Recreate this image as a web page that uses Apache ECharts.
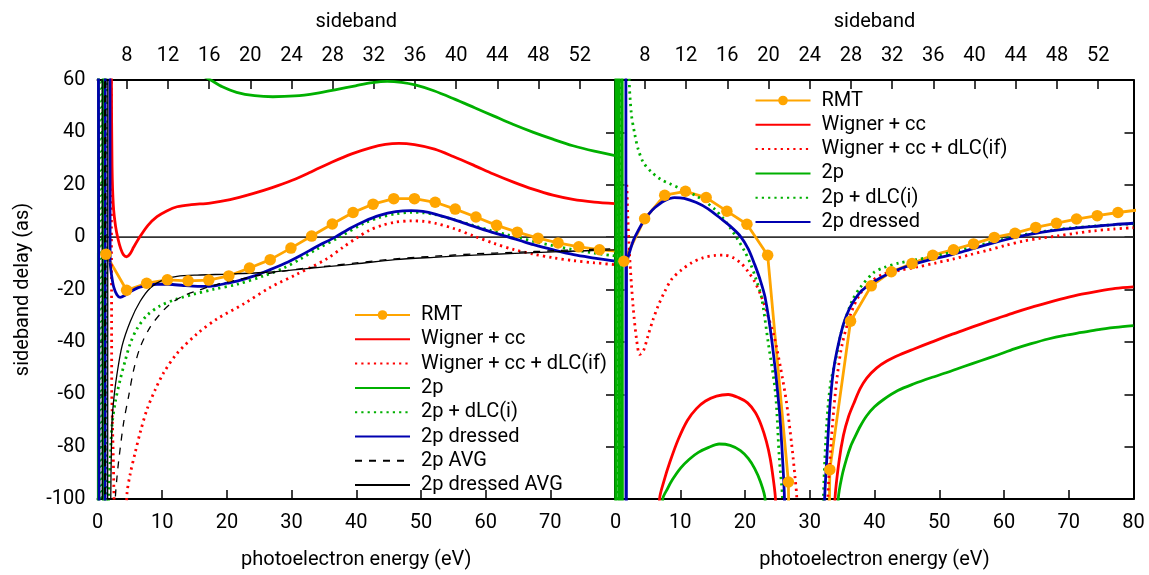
<!DOCTYPE html>
<html><head><meta charset="utf-8">
<script src="https://cdn.jsdelivr.net/npm/echarts@6/dist/echarts.min.js"></script>
<style>html,body{margin:0;padding:0;background:#fff}#c{width:1149px;height:575px}</style>
</head><body><div id="c"></div>
<script>
// ---------- axes ----------
const E_MIN = 0, E_MAX = 80, E_STEP = 10;
const Y_MIN = -100, Y_MAX = 60, Y_STEP = 20;
const SB_MIN = 5.15, SB_MAX = 55.43;
const SB_TICKS = [8, 12, 16, 20, 24, 28, 32, 36, 40, 44, 48, 52];
const NAMES_LEFT = ['RMT', 'Wigner + cc', 'Wigner + cc + dLC(if)', '2p', '2p + dLC(i)', '2p dressed', '2p AVG', '2p dressed AVG'];
const NAMES_RIGHT = ['RMT', 'Wigner + cc', 'Wigner + cc + dLC(if)', '2p', '2p + dLC(i)', '2p dressed'];

// ---------- RMT (photoelectron energy, delay) ----------
const rmtE = [1.3, 4.5, 7.6, 10.8, 14.0, 17.2, 20.3, 23.5, 26.7, 29.9, 33.1, 36.3, 39.5, 42.6, 45.8, 49.0, 52.2, 55.3, 58.5, 61.7, 64.9, 68.1, 71.2, 74.4, 77.6, 80.8];
const rmtLeft = [-6.5, -20.3, -17.6, -16.3, -16.7, -16.4, -14.8, -11.8, -8.6, -4.2, 0.4, 5.0, 9.4, 12.6, 14.7, 14.7, 13.3, 10.7, 7.7, 4.5, 1.9, -0.4, -2.2, -3.7, -4.8, -5.5];
const rmtRight = [-9.2, 7.0, 16.0, 17.5, 15.1, 9.9, 4.9, -6.9, -93.5, -800, -88.8, -32.1, -18.6, -13.2, -10.1, -6.9, -4.8, -2.6, -0.1, 1.5, 3.7, 5.3, 6.9, 8.2, 9.4, 10.4];

// ---------- left panel curves [E, delay] ----------
const wignerL = [[2.0,200],[2.15,62],[2.25,27],[2.45,12],[2.8,4],[3.2,-1],[3.6,-4.5],[4.0,-6.7],[4.5,-7.5],[5.0,-6.5],[5.6,-3.8],[6.6,0.3],[7.8,4.5],[9.2,7.8],[10.7,10],[12.3,11.6],[14.5,12.4],[17.4,13.0],[20.5,14.3],[24,16.6],[27,18.9],[30.1,21.7],[33,24.9],[36.2,28.6],[39.3,31.8],[42.3,34.2],[44.5,35.4],[46.6,35.8],[49,35.3],[52.1,33.6],[55,30.8],[58.2,27.4],[61.2,24.1],[64.3,21],[67.3,18.3],[70.4,16.0],[73.5,14.4],[76.8,13.4],[80,12.8]];
const wignerDlcSpikeL = [[1.95,300],[2.2,-60],[2.45,-85],[2.7,-120]];
const wignerDlcL = [[4.4,-115],[4.56,-98],[5.07,-90.3],[5.84,-82.1],[6.6,-74.6],[7.65,-65.8],[8.94,-58.2],[10.2,-51.9],[12.3,-44.4],[15.4,-36.9],[18.5,-31.2],[22.6,-25.5],[26.7,-19.2],[30.8,-14.2],[33,-11.5],[35.5,-8.2],[38,-3.8],[40,-0.4],[42,2.6],[44,4.5],[46,5.7],[48.5,6.2],[50.5,6.0],[52.2,5.3],[55.2,3.2],[58.3,0.3],[61.3,-2.4],[64.4,-4.8],[67.4,-6.5],[70.5,-7.9],[73.6,-9.0],[76.8,-9.8],[80,-10.5]];
const p2SpikeL = [[0.1,-300],[0.17,300],[0.85,300],[0.92,-300],[1.0,-300],[1.07,300]];
const p2L = [[10,72],[13,66],[15.5,62.5],[17.3,60.3],[19.3,57.4],[21.5,55.3],[24.3,54.0],[27.1,53.6],[30.5,53.9],[33.8,54.9],[36.9,56.3],[39.9,57.8],[42.5,59.0],[44.8,59.5],[47,59.1],[49.1,58.1],[52,55.9],[55.2,52.7],[58.3,49.4],[61.3,46.2],[64.3,43.0],[67.4,40.0],[70.5,37.3],[73.5,34.9],[76.8,32.8],[80,31.1]];
const p2DlcSpikeL = [[0.25,300],[0.32,-300],[0.7,-300],[0.77,300],[1.35,300],[1.42,-300]];
const p2DlcL = [[1.6,-130],[1.7,-100],[1.95,-86],[2.24,-72],[2.75,-63],[3.5,-54.5],[4.3,-47],[5.07,-40.6],[6.1,-35],[7.65,-29.9],[9.7,-26.2],[12.3,-23.6],[14.9,-21.8],[18,-19.9],[21.6,-18],[25.7,-14.8],[28.8,-11.8],[31.4,-8.3],[33.9,-4.6],[37.4,0],[41.2,5.3],[43.6,7.5],[46.1,8.9],[48.5,9.5],[50.3,9.3],[52.2,8.6],[55.2,6.6],[58.3,4.3],[60.8,2.5],[63.2,1.0],[65.3,-0.3],[67.4,-1.6],[70.5,-3.3],[73.6,-4.8],[76.8,-6.1],[80,-7.2]];
const p2DressedSpikeL = [[0,300],[0.3,300],[0.37,-300],[1.15,-300],[1.22,300],[1.85,300],[1.95,-9.8]];
const p2DressedL = [[1.95,-9.8],[2.2,-15],[2.5,-19],[3.0,-22],[3.5,-23],[4.2,-22.3],[5.1,-20.8],[6.3,-19.3],[7.7,-18.5],[9.2,-18],[11,-18],[13.3,-18.5],[15.5,-18.8],[17,-18.8],[18.5,-18.4],[20,-17.6],[21.6,-16.8],[24,-15],[26.5,-12.6],[29,-10],[31.4,-7.0],[33.9,-3.6],[36.8,0.1],[39,3.3],[41.2,6.0],[43.6,8.3],[46.1,9.7],[48.5,10.1],[50.3,9.8],[52.2,8.8],[55.2,6.6],[58.3,4.0],[60.8,2.0],[63.2,0.3],[65.3,-1.3],[67.4,-2.9],[70.5,-4.9],[73.6,-6.7],[76.8,-8.0],[80,-9.2]];
const avgSpikeL = [[1.05,300],[1.12,-300],[1.3,-300],[1.37,300]];
const avgL = [[2.65,-115],[2.75,-100],[3.0,-92],[3.27,-85.5],[4.04,-70.8],[4.81,-60.8],[5.59,-50.7],[6.62,-41.9],[8.16,-34.3],[9.71,-29.3],[11.25,-25.5],[13.3,-22.4],[15.4,-20.5],[18.5,-18],[22.1,-16.1],[25.7,-14.2],[28.8,-13],[32,-11.9],[35.5,-11.1],[40,-9.8],[46,-8.3],[52,-7.3],[58.3,-6.4],[64.5,-5.8],[70.5,-5.2],[75,-4.8],[80,-4.4]];
const avgDressedSpikeL = [[0.7,300],[0.77,-300],[1.55,-300],[1.62,300]];
const avgDressedL = [[1.95,-130],[2.05,-100],[2.15,-80],[2.3,-68],[2.6,-60],[3.0,-52.5],[3.8,-41.5],[5.1,-32],[6.6,-24.5],[8.2,-19.3],[10.2,-16.2],[12.3,-15.0],[15.4,-14.5],[20.5,-14.1],[25.7,-13.5],[30.8,-12.4],[35.5,-11.3],[40,-10.2],[46,-8.6],[52,-7.7],[58.3,-6.9],[64.5,-6.2],[70.5,-5.6],[75.5,-5.2],[80,-4.9]];

// ---------- right panel curves [E, delay] ----------
const wignerR1 = [[6.5,-130],[6.8,-100],[7.5,-93],[8.4,-85.9],[9.7,-77.2],[11.1,-70.0],[12.5,-65.5],[13.9,-62.6],[15.6,-60.7],[17.4,-60.1],[19,-61.3],[20.4,-63.3],[21.6,-67],[22.55,-72.1],[23.3,-78],[23.9,-84.6],[24.4,-93],[24.7,-100],[24.9,-130]];
const wignerR2 = [[33.7,-130],[33.9,-100],[34.5,-86],[35.2,-75.7],[36.0,-68.5],[36.8,-63.5],[37.8,-57.8],[38.8,-53.8],[40.3,-50.0],[41.9,-47.3],[43.9,-44.9],[46.1,-42.7],[48.7,-40.2],[51.3,-37.7],[53.9,-35.4],[56.4,-33.2],[59,-31.0],[61.6,-28.8],[64.2,-26.8],[66.8,-25.0],[69.4,-23.3],[72.0,-21.8],[74.6,-20.6],[77.2,-19.6],[80,-19.0]];
const wignerDlcR1 = [[1.75,20],[1.9,8],[2.2,-8],[2.71,-26.2],[3.24,-38.8],[3.75,-44.8],[4.3,-43.5],[5.04,-37.5],[5.8,-31.5],[6.59,-26.2],[7.6,-20.8],[8.66,-16.1],[10.2,-12.5],[11.76,-9.8],[13.5,-7.9],[15.4,-7.0],[16.8,-6.9],[18.2,-7.9],[19.4,-10],[20.4,-12.9],[21.5,-17],[22.5,-22.5],[23.4,-29],[24.5,-38],[25.5,-50],[26.4,-63],[27.2,-79],[27.7,-91],[28.0,-100],[28.2,-140]];
const wignerDlcR2 = [[32.6,-140],[32.8,-100],[33.2,-82],[33.7,-66],[34.3,-52],[35,-41],[36.3,-29.5],[37.7,-22],[39.5,-17],[41.2,-14.3],[43.9,-12.7],[46.6,-11.4],[49.4,-9.9],[52.1,-8.4],[54.8,-6.7],[57.5,-5],[60.2,-3.2],[63,-1.5],[65.7,-0.4],[68.4,0.5],[71.1,1.5],[73.9,2.4],[77,3.1],[80,3.6]];
const p2SpikeR = [[0.0,-300],[0.08,300],[0.45,300],[0.52,-300],[0.9,-300],[0.97,300],[1.05,300],[1.12,-300]];
const p2R1 = [[7.0,-130],[7.3,-100],[8.0,-96.2],[8.8,-92.6],[10.05,-88.2],[11.4,-84.8],[12.8,-82.2],[14.4,-80.3],[16.0,-79],[17.7,-79.5],[19.3,-81.5],[20.5,-84.5],[21.5,-88.4],[22.4,-93.5],[23.1,-100],[23.3,-130]];
const p2R2 = [[34.2,-130],[34.4,-100],[35.0,-91],[35.7,-84.5],[36.3,-80],[37.0,-76.2],[37.8,-72.2],[38.8,-68.2],[40,-64.8],[41.4,-62.0],[43.6,-58.6],[46.1,-56.0],[48.7,-53.7],[51.3,-51.6],[53.8,-49.4],[56.4,-47.2],[59,-45.0],[61.6,-42.7],[64.2,-40.7],[66.8,-38.9],[69.4,-37.5],[72.0,-36.4],[74.6,-35.3],[77.2,-34.5],[80,-33.8]];
const p2DlcSpikeR = [[0.2,300],[0.27,-300],[0.65,-300],[0.72,300]];
const p2DlcR1 = [[1.9,200],[2.1,62],[2.45,47],[3.0,39],[3.5,33.6],[4.3,28.5],[5.5,25],[7,22],[8.4,20.4],[10,18.6],[11.1,17.5],[12.5,15.7],[13.9,13.5],[15.3,10.7],[16.6,7.2],[17.7,3.6],[18.75,-0.4],[19.9,-5.2],[20.9,-10.5],[21.7,-16],[22.55,-23],[23.6,-40.6],[24.7,-59.5],[25.3,-84.6],[25.8,-100],[26.0,-130]];
const p2DlcR2 = [[31.9,-130],[32.1,-100],[32.6,-72],[33.2,-56],[34,-46.9],[34.8,-37],[35.6,-30.6],[36.6,-24],[37.8,-19.2],[39.9,-13.5],[41.5,-11.6],[43.75,-9.9],[46.5,-8.6],[49.2,-7.3],[52,-5.8],[54.8,-4.1],[57.5,-2.3],[60.2,-0.6],[63,0.9],[65.7,2.0],[68.4,3.0],[71.2,3.7],[73.9,4.2],[77,4.7],[80,5.1]];
const p2DressedSpikeR = [[1.58,300],[1.64,-300],[1.66,-300],[1.7,-9.8]];
const p2DressedR1 = [[1.7,-9.8],[2.2,-5.5],[2.8,-1],[3.5,2.5],[4.3,6],[5.2,9],[6.1,11.3],[7.5,13.8],[9.1,15.1],[10.6,14.8],[12.5,13.2],[14.3,10.8],[16.2,7.2],[17.8,4.0],[19.3,0.3],[20.5,-4.5],[21.5,-10.5],[22.3,-16],[23.1,-23],[24.2,-40.6],[25.3,-65.8],[25.8,-84.6],[26.1,-100],[26.3,-130]];
const p2DressedR2 = [[32.1,-130],[32.3,-100],[32.6,-86],[33.1,-65],[33.6,-52],[34.2,-43.4],[35.2,-33.2],[36.0,-28],[36.8,-24.4],[38,-20.5],[39.3,-18.0],[40.8,-15.7],[42.5,-13.6],[44.5,-11.6],[46.6,-9.9],[49.3,-8.2],[52.1,-6.6],[54.8,-4.7],[57.5,-2.8],[60.2,-1.0],[63,0.6],[65.7,1.8],[68.4,2.8],[71.2,3.5],[73.9,4.1],[77,4.8],[80,5.3]];

// ---------- styles ----------
const FONT = 'Roboto';
const LW = 2.8;
const DOT = [2.2, 4.1];
const STYLE = {
  'RMT': {color: '#FFA500', width: LW, type: 'solid', symbol: 'circle', size: 11.5},
  'Wigner + cc': {color: '#FF0000', width: LW, type: 'solid'},
  'Wigner + cc + dLC(if)': {color: '#FF0000', width: LW, type: DOT},
  '2p': {color: '#00B000', width: LW, type: 'solid'},
  '2p + dLC(i)': {color: '#00B000', width: LW, type: DOT},
  '2p dressed': {color: '#0000B0', width: LW, type: 'solid'},
  '2p AVG': {color: '#000000', width: 1.3, type: [7, 7]},
  '2p dressed AVG': {color: '#000000', width: 1.3, type: 'solid'}
};

function zip(xs, ys) { return xs.map((x, i) => [x, ys[i]]); }

function mk(name, data, panel, smooth) {
  const st = STYLE[name];
  const ax = panel === 0 ? 0 : 2;
  return {
    type: 'line', name: name, data: data,
    xAxisIndex: ax, yAxisIndex: ax,
    symbol: st.symbol || 'none', symbolSize: st.size || 0, showSymbol: !!st.symbol,
    smooth: smooth ? 0.3 : false,
    clip: true, animation: false, silent: true,
    lineStyle: {color: st.color, width: st.width, type: st.type, cap: 'butt', join: 'round'},
    itemStyle: {color: st.color},
    emphasis: {disabled: true}
  };
}
function zeroLine(panel) {
  const ax = panel === 0 ? 0 : 2;
  return {type: 'line', data: [[E_MIN, 0], [E_MAX, 0]], xAxisIndex: ax, yAxisIndex: ax,
    symbol: 'none', silent: true, animation: false, z: 1,
    lineStyle: {color: '#333', width: 1.6}};
}

const series = [
  zeroLine(0), zeroLine(1),
  // left
  mk('RMT', zip(rmtE, rmtLeft), 0, false),
  mk('Wigner + cc', wignerL, 0, true),
  mk('Wigner + cc + dLC(if)', wignerDlcSpikeL, 0, false),
  mk('Wigner + cc + dLC(if)', wignerDlcL, 0, true),
  mk('2p', p2SpikeL, 0, false),
  mk('2p', p2L, 0, true),
  mk('2p + dLC(i)', p2DlcSpikeL, 0, false),
  mk('2p + dLC(i)', p2DlcL, 0, true),
  mk('2p dressed', p2DressedSpikeL, 0, false),
  mk('2p dressed', p2DressedL, 0, true),
  mk('2p AVG', avgSpikeL, 0, false),
  mk('2p AVG', avgL, 0, true),
  mk('2p dressed AVG', avgDressedSpikeL, 0, false),
  mk('2p dressed AVG', avgDressedL, 0, true),
  // right
  mk('RMT', zip(rmtE, rmtRight), 1, false),
  mk('Wigner + cc', wignerR1, 1, true),
  mk('Wigner + cc', wignerR2, 1, true),
  mk('Wigner + cc + dLC(if)', wignerDlcR1, 1, true),
  mk('Wigner + cc + dLC(if)', wignerDlcR2, 1, true),
  mk('2p', p2SpikeR, 1, false),
  mk('2p', p2R1, 1, true),
  mk('2p', p2R2, 1, true),
  mk('2p + dLC(i)', p2DlcSpikeR, 1, false),
  mk('2p + dLC(i)', p2DlcR1, 1, true),
  mk('2p + dLC(i)', p2DlcR2, 1, true),
  mk('2p dressed', p2DressedSpikeR, 1, false),
  mk('2p dressed', p2DressedR1, 1, true),
  mk('2p dressed', p2DressedR2, 1, true)
];

const AXLINE = {show: true, onZero: false, lineStyle: {color: '#000', width: 2}};
const TICK = {show: true, inside: true, length: 9, lineStyle: {color: '#000', width: 1.5}};
const LABEL = {fontSize: 20, color: '#000', fontFamily: FONT};
const NAME = {fontSize: 20, color: '#000', fontFamily: FONT};

function xBottom(g) {
  return {gridIndex: g, type: 'value', position: 'bottom', min: E_MIN, max: E_MAX, interval: E_STEP,
    axisLine: AXLINE, axisTick: TICK, splitLine: {show: false},
    axisLabel: Object.assign({margin: 14, showMaxLabel: g === 1, showMinLabel: true}, LABEL),
    name: 'photoelectron energy (eV)', nameLocation: 'middle', nameGap: 51, nameTextStyle: NAME};
}
function xTop(g) {
  return {gridIndex: g, type: 'value', position: 'top', min: SB_MIN, max: SB_MAX,
    axisLine: AXLINE, axisTick: Object.assign({customValues: SB_TICKS}, TICK), splitLine: {show: false},
    axisLabel: Object.assign({margin: 14, customValues: SB_TICKS}, LABEL),
    name: 'sideband', nameLocation: 'middle', nameGap: 48, nameTextStyle: NAME};
}
function yAx(g, pos, labels) {
  const a = {gridIndex: g, type: 'value', position: pos, min: Y_MIN, max: Y_MAX, interval: Y_STEP,
    axisLine: AXLINE, axisTick: TICK, splitLine: {show: false},
    axisLabel: Object.assign({show: labels, margin: 12}, LABEL)};
  if (labels) {
    Object.assign(a, {name: 'sideband delay (as)', nameLocation: 'middle', nameGap: 65, nameRotate: 90, nameTextStyle: NAME});
  }
  return a;
}

// legend entries: only RMT shows a marker in its key
function legendItems(names) {
  return names.map(n => n === 'RMT' ? {name: n} : {name: n, itemStyle: {opacity: 0, borderWidth: 0}});
}
const legendBase = {orient: 'vertical', itemWidth: 55, itemHeight: 12, itemGap: 4.3, padding: 0,
  selectedMode: false, textStyle: {fontSize: 20, color: '#000', fontFamily: FONT, padding: [0, 0, 0, 6]}};

const option = {
  backgroundColor: '#fff',
  animation: false,
  textStyle: {fontFamily: FONT},
  grid: [
    {left: 97.5, top: 80, width: 517.5, height: 424},
    {left: 615.5, top: 80, width: 518, height: 424}
  ],
  xAxis: [xBottom(0), xTop(0), xBottom(1), xTop(1)],
  yAxis: [yAx(0, 'left', true), yAx(0, 'right', false), yAx(1, 'left', false), yAx(1, 'right', false)],
  legend: [
    Object.assign({data: legendItems(NAMES_LEFT), left: 354, top: 305}, legendBase),
    Object.assign({data: legendItems(NAMES_RIGHT), left: 754.5, top: 90.5}, legendBase)
  ],
  series: series
};

const chart = echarts.init(document.getElementById('c'), null, {renderer: 'canvas'});
chart.setOption(option);
</script>
</body></html>
